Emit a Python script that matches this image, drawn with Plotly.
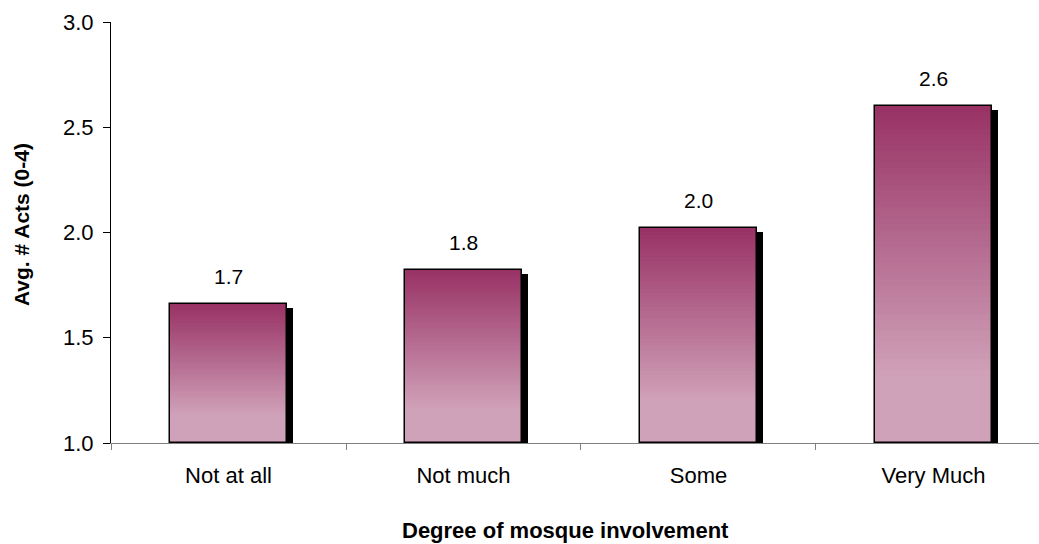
import plotly.graph_objects as go

# Data
categories = ["Not at all", "Not much", "Some", "Very Much"]
avg_acts = [1.66, 1.82, 2.02, 2.60]
y_ticks = [1.0, 1.5, 2.0, 2.5, 3.0]

AXIS_BASE = 1.0
BAR_WIDTH = 0.5
DARK = (153, 51, 102)
LIGHT = (208, 162, 185)
N_LAYERS = 60
FONT = "Liberation Sans, Arial, sans-serif"


def shade(t):
    """Colour at fraction t measured down from the bar top."""
    s = min(t / 0.8, 1.0)
    r, g, b = (round(d + (l - d) * s) for d, l in zip(DARK, LIGHT))
    return f"rgb({r},{g},{b})"


fig = go.Figure()

# drop shadow behind each bar
fig.add_trace(go.Bar(
    x=categories,
    y=[v - 0.019 - AXIS_BASE for v in avg_acts],
    base=[AXIS_BASE] * len(avg_acts),
    width=BAR_WIDTH, offset=-BAR_WIDTH / 2 + 0.023,
    marker=dict(color="black", line=dict(width=0)),
    hoverinfo="skip",
))

# vertical gradient fill: stacked layers, each shorter and lighter
for k in range(N_LAYERS):
    frac = 1 - k / N_LAYERS
    fig.add_trace(go.Bar(
        x=categories,
        y=[(v - AXIS_BASE) * frac for v in avg_acts],
        base=[AXIS_BASE] * len(avg_acts),
        width=BAR_WIDTH, offset=-BAR_WIDTH / 2,
        marker=dict(color=shade(k / N_LAYERS), line=dict(width=0)),
        hoverinfo="skip",
    ))

# bar outlines
fig.add_trace(go.Bar(
    x=categories,
    y=[v - AXIS_BASE for v in avg_acts],
    base=[AXIS_BASE] * len(avg_acts),
    width=BAR_WIDTH, offset=-BAR_WIDTH / 2,
    marker=dict(color="rgba(0,0,0,0)", line=dict(color="black", width=1.5)),
    customdata=avg_acts,
    hovertemplate="%{x}: %{customdata:.2f}<extra></extra>",
))

# value labels above the bars
for cat, v in zip(categories, avg_acts):
    fig.add_annotation(
        x=cat, y=v, text=f"{v:.1f}", showarrow=False,
        yanchor="bottom", yshift=14,
        font=dict(family=FONT, size=21, color="black"),
    )

# axis titles
fig.add_annotation(
    xref="paper", yref="paper", x=-0.097, y=0.52,
    text="<b>Avg. # Acts (0-4)</b>", textangle=-90, showarrow=False,
    xanchor="center", yanchor="middle",
    font=dict(family=FONT, size=21, color="black"),
)
fig.add_annotation(
    xref="paper", yref="paper", x=0.49, y=-0.209,
    text="<b>Degree of mosque involvement</b>", showarrow=False,
    xanchor="center", yanchor="middle",
    font=dict(family=FONT, size=22, color="black"),
)

fig.update_layout(
    width=1039, height=544,
    margin=dict(l=111, r=0, t=22, b=101),
    barmode="overlay",
    bargap=0,
    showlegend=False,
    plot_bgcolor="white", paper_bgcolor="white",
    font=dict(family=FONT, size=22, color="black"),
    xaxis=dict(
        type="category", range=[-0.5, 3.449],
        showline=True, linecolor="#808080", linewidth=1,
        ticks="outside", tickson="boundaries", ticklen=6, tickcolor="#808080",
        showgrid=False, zeroline=False, ticklabelstandoff=13,
        tickfont=dict(family=FONT, size=22, color="black"),
    ),
    yaxis=dict(
        range=[1.0, 3.0], tickvals=y_ticks, tickformat=".1f",
        showline=True, linecolor="black", linewidth=1,
        ticks="outside", ticklen=7, tickcolor="black",
        showgrid=False, zeroline=False, ticklabelstandoff=5,
        tickfont=dict(family=FONT, size=22, color="black"),
    ),
)

fig.write_html("out.html")
